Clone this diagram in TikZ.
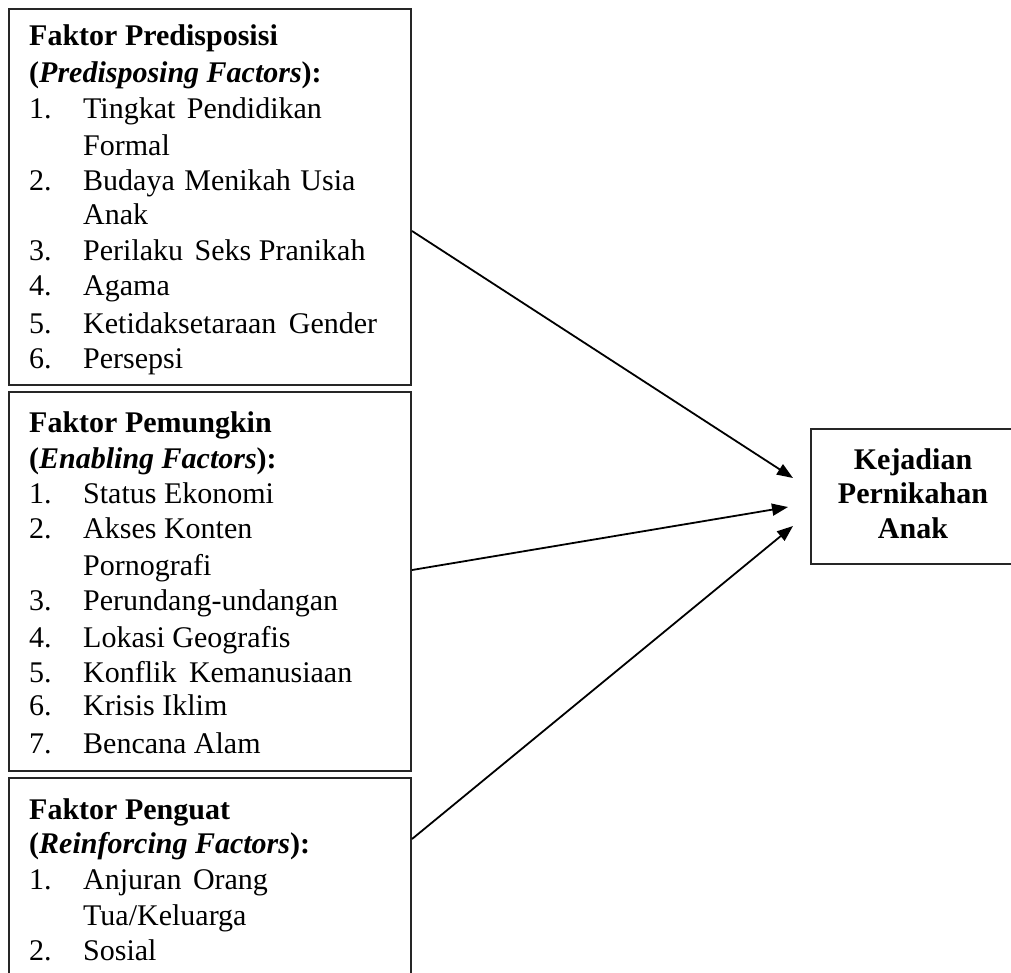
\documentclass[tikz,border=0pt]{standalone}
\usepackage{fontspec}
\setmainfont{Liberation Serif}
\usetikzlibrary{arrows.meta}
\begin{document}
\begin{tikzpicture}[x=1pt,y=-1pt,
  box/.style={draw=black!85,line width=2pt,inner sep=0pt},
  txt/.style={anchor=base west,inner sep=0pt,font=\fontsize{30}{36}\selectfont},
  ctxt/.style={anchor=base,inner sep=0pt,font=\fontsize{30}{36}\selectfont\bfseries},
  conn/.style={line width=1.8pt,-{Triangle[length=16pt,width=12pt]}}]
\newcommand{\itm}[2]{\makebox[54pt][l]{#1}#2}
\useasboundingbox (0,0) rectangle (1011,972);
% boxes
\node[box,minimum width=402pt,minimum height=376pt] (b1) at (210,197) {};
\node[box,minimum width=402pt,minimum height=379pt] (b2) at (210,581.5) {};
\node[box,minimum width=402pt,minimum height=207pt] (b3) at (210,881.5) {};
\node[box,minimum width=204pt,minimum height=135pt] (k) at (913,496.5) {};
% box 1 text
\node[txt] (p0) at (29,45) {\textbf{Faktor Predisposisi}};
\node[txt] (p1) at (29,82) {\textbf{(\textit{Predisposing Factors}):}};
\node[txt] (p2) at (29,118) {\itm{1.}{Tingkat\hspace{4pt} Pendidikan}};
\node[txt] (p3) at (83,155) {Formal};
\node[txt] (p4) at (29,190) {\itm{2.}{Budaya\hspace{2pt} Menikah\hspace{2pt} Usia}};
\node[txt] (p5) at (83,224) {Anak};
\node[txt] (p6) at (29,260) {\itm{3.}{Perilaku\hspace{4pt} Seks Pranikah}};
\node[txt] (p7) at (29,295) {\itm{4.}{Agama}};
\node[txt] (p8) at (29,333) {\itm{5.}{Ketidaksetaraan\hspace{5pt} Gender}};
\node[txt] (p9) at (29,368) {\itm{6.}{Persepsi}};
% box 2 text
\node[txt] (e0) at (29,432) {\textbf{Faktor Pemungkin}};
\node[txt] (e1) at (29,468) {\textbf{(\textit{Enabling Factors}):}};
\node[txt] (e2) at (29,503) {\itm{1.}{Status Ekonomi}};
\node[txt] (e3) at (29,538) {\itm{2.}{Akses Konten}};
\node[txt] (e4) at (83,575) {Pornografi};
\node[txt] (e5) at (29,610) {\itm{3.}{Perundang-undangan}};
\node[txt] (e6) at (29,647) {\itm{4.}{Lokasi Geografis}};
\node[txt] (e7) at (29,682) {\itm{5.}{Konflik\hspace{5pt} Kemanusiaan}};
\node[txt] (e8) at (29,715) {\itm{6.}{Krisis Iklim}};
\node[txt] (e9) at (29,753) {\itm{7.}{Bencana Alam}};
% box 3 text
\node[txt] (r0) at (29,819) {\textbf{Faktor Penguat}};
\node[txt] (r1) at (29,853) {\textbf{(\textit{Reinforcing Factors}):}};
\node[txt] (r2) at (29,889) {\itm{1.}{Anjuran\hspace{4pt} Orang}};
\node[txt] (r3) at (83,925) {Tua/Keluarga};
\node[txt] (r4) at (29,960) {\itm{2.}{Sosial}};
% right box text
\node[ctxt] (k1) at (913,469) {Kejadian};
\node[ctxt] (k2) at (913,503) {Pernikahan};
\node[ctxt] (k3) at (913,538) {Anak};
% arrows
\coordinate (t1) at (793,478);
\coordinate (t2) at (788,507);
\coordinate (t3) at (793,526);
\draw[conn] ([yshift=-34pt]b1.east) -- (t1);
\draw[conn] ([yshift=11.5pt]b2.east) -- (t2);
\draw[conn] ([yshift=42.5pt]b3.east) -- (t3);
\end{tikzpicture}
\end{document}
